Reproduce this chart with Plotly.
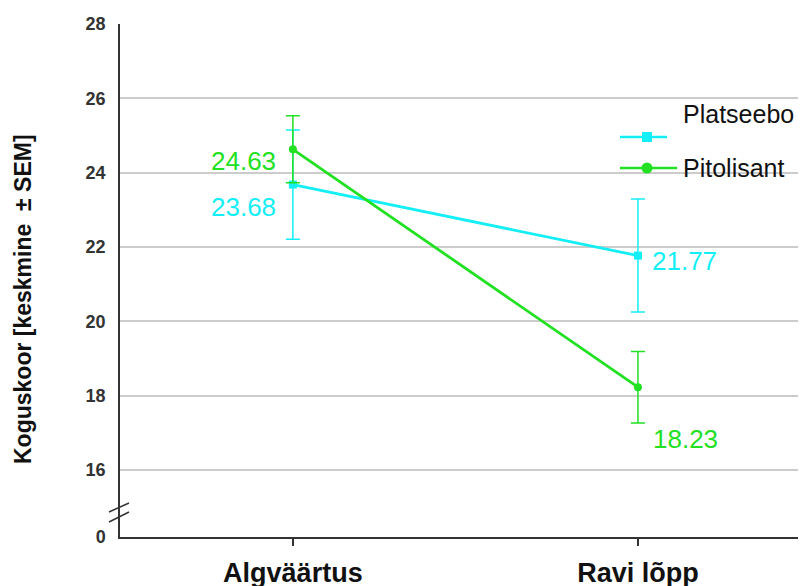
import plotly.graph_objects as go

categories = ["Algväärtus", "Ravi lõpp"]
platseebo = [23.68, 21.77]
platseebo_sem = [1.47, 1.52]
pitolisant = [24.63, 18.23]
pitolisant_sem = [0.90, 0.96]
ytick_vals = [14.2, 16, 18, 20, 22, 24, 26, 28]
ytick_text = ["0", "16", "18", "20", "22", "24", "26", "28"]
series_names = ["Platseebo", "Pitolisant"]
y_title = "Koguskoor [keskmine  ± SEM]"

CYAN = "#14EEF6"
GREEN = "#22E022"
FONT = "Liberation Sans, Arial"

fig = go.Figure()
fig.add_trace(go.Scatter(
    x=[0, 1], y=platseebo, mode="lines+markers", name=series_names[0],
    line=dict(color=CYAN, width=2.8),
    marker=dict(symbol="square", size=8, color=CYAN),
    error_y=dict(type="data", array=platseebo_sem, color=CYAN, thickness=1.5, width=7),
    showlegend=False))
fig.add_trace(go.Scatter(
    x=[0, 1], y=pitolisant, mode="lines+markers", name=series_names[1],
    line=dict(color=GREEN, width=2.8),
    marker=dict(symbol="circle", size=8, color=GREEN),
    error_y=dict(type="data", array=pitolisant_sem, color=GREEN, thickness=1.5, width=7),
    showlegend=False))

# value labels
lab_font = dict(family=FONT, size=26)
fig.add_annotation(x=0, y=pitolisant[0], text=f"{pitolisant[0]:.2f}", showarrow=False,
                   xanchor="right", yanchor="middle", xshift=-15, yshift=-12,
                   font=dict(color=GREEN, **lab_font))
fig.add_annotation(x=0, y=platseebo[0], text=f"{platseebo[0]:.2f}", showarrow=False,
                   xanchor="right", yanchor="middle", xshift=-15, yshift=-22,
                   font=dict(color=CYAN, **lab_font))
fig.add_annotation(x=1, y=platseebo[1], text=f"{platseebo[1]:.2f}", showarrow=False,
                   xanchor="left", yanchor="middle", xshift=12, yshift=-5,
                   font=dict(color=CYAN, **lab_font))
fig.add_annotation(x=1, y=pitolisant[1], text=f"{pitolisant[1]:.2f}", showarrow=False,
                   xanchor="left", yanchor="middle", xshift=13, yshift=-52,
                   font=dict(color=GREEN, **lab_font))

# page offset (browser body margin) compensation
OFF = 8
W, H = 806 - OFF, 586 - OFF
# plot area in page pixels
PL, PR, PT, PB = 120, 806, 24, 537
L, R, T, B = PL - OFF, PR - OFF, PT - OFF, PB - OFF

def px(x):
    return (x - PL) / (PR - PL)
def py(y):
    return (PB - y) / (PB - PT)

shapes = []
# white box hiding gridline behind legend top
shapes.append(dict(type="rect", xref="paper", yref="paper", x0=px(667), x1=1.0,
                   y0=py(125), y1=py(88), fillcolor="white", line=dict(width=0), layer="between"))
# legend symbols
shapes.append(dict(type="line", xref="paper", yref="paper", x0=px(620), x1=px(667),
                   y0=py(137), y1=py(137), line=dict(color=CYAN, width=2.5)))
shapes.append(dict(type="rect", xref="paper", yref="paper", x0=px(642), x1=px(652),
                   y0=py(142), y1=py(132), fillcolor=CYAN, line=dict(width=0)))
shapes.append(dict(type="line", xref="paper", yref="paper", x0=px(620), x1=px(677),
                   y0=py(168), y1=py(168), line=dict(color=GREEN, width=2.5)))
shapes.append(dict(type="circle", xref="paper", yref="paper", x0=px(641.5), x1=px(652.5),
                   y0=py(173.5), y1=py(162.5), fillcolor=GREEN, line=dict(width=0)))
# axis break marks
shapes.append(dict(type="line", xref="paper", yref="paper", x0=px(109), x1=px(129),
                   y0=py(512), y1=py(503), line=dict(color="#333333", width=1.5)))
shapes.append(dict(type="line", xref="paper", yref="paper", x0=px(109), x1=px(129),
                   y0=py(522), y1=py(512), line=dict(color="#333333", width=1.5)))
fig.update_layout(shapes=shapes)

leg_font = dict(family=FONT, size=25, color="#111111")
fig.add_annotation(xref="paper", yref="paper", x=px(681), y=py(114), text=series_names[0],
                   showarrow=False, xanchor="left", yanchor="middle", font=leg_font)
fig.add_annotation(xref="paper", yref="paper", x=px(681), y=py(168), text=series_names[1],
                   showarrow=False, xanchor="left", yanchor="middle", font=leg_font)

# y axis title
fig.add_annotation(xref="paper", yref="paper", x=px(23), y=py(299), text=f"<b>{y_title}</b>",
                   textangle=-90, showarrow=False, xanchor="center", yanchor="middle",
                   font=dict(family=FONT, size=23, color="#111111"))

fig.update_xaxes(
    range=[-0.501, 1.487], tickvals=[0, 1], ticktext=[f"<b>{c}</b>" for c in categories],
    showgrid=False, zeroline=False, showline=True, linecolor="#333333", linewidth=1.5,
    ticks="outside", ticklen=7, tickcolor="#333333", tickwidth=1.5,
    tickfont=dict(family=FONT, size=27, color="#111111"), ticklabelstandoff=4,
    automargin=False,
)
fig.update_yaxes(
    range=[14.2, 28], tickvals=ytick_vals, ticktext=[f"<b>{t}</b>" for t in ytick_text],
    showgrid=True, gridcolor="#CCCCCC", gridwidth=1.5, zeroline=False,
    showline=True, linecolor="#333333", linewidth=1.5, ticks="",
    tickfont=dict(family=FONT, size=18, color="#333333"), ticklabelstandoff=9,
    automargin=False,
)
fig.update_layout(
    width=W, height=H, plot_bgcolor="white", paper_bgcolor="white",
    margin=dict(l=L, r=W - R, t=T, b=H - B, autoexpand=False),
    font=dict(family=FONT),
)

fig.write_html("out.html")
